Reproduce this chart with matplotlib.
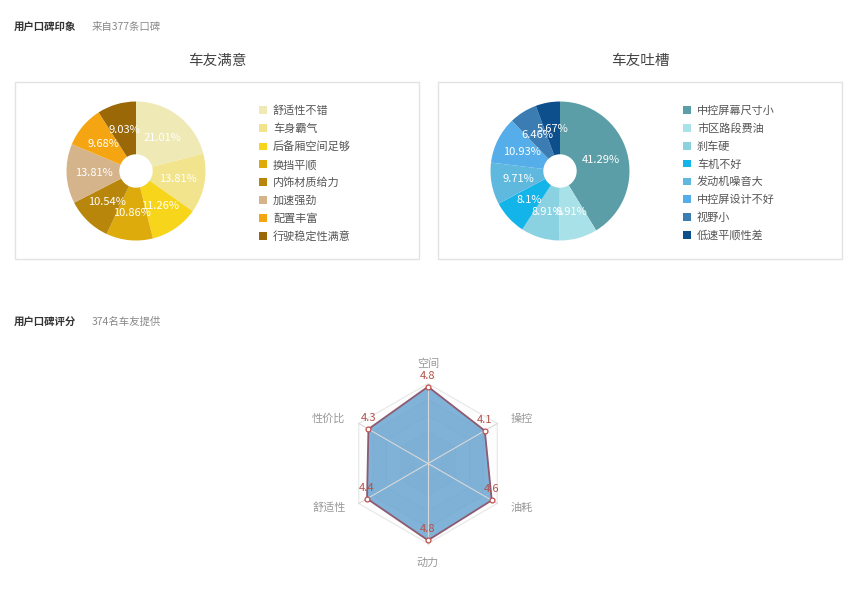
import numpy as np
import matplotlib
matplotlib.use('Agg')
import matplotlib.pyplot as plt
from matplotlib.patches import Rectangle, Patch, Polygon

plt.rcParams['font.family'] = ['Noto Sans CJK SC', 'DejaVu Sans']

# data
good_labels = ['舒适性不错', '车身霸气', '后备厢空间足够', '换挡平顺', '内饰材质给力',
               '加速强劲', '配置丰富', '行驶稳定性满意']
good_values = [21.01, 13.81, 11.26, 10.86, 10.54, 13.81, 9.68, 9.03]
good_colors = ['#efe9b5', '#f2e48c', '#f7d51a', '#ddab0c', '#b8860b',
               '#d5b48c', '#f5a512', '#9a6806']

bad_labels = ['中控屏幕尺寸小', '市区路段费油', '刹车硬', '车机不好', '发动机噪音大',
              '中控屏设计不好', '视野小', '低速平顺性差']
bad_values = [41.29, 8.91, 8.91, 8.1, 9.71, 10.93, 6.46, 5.67]
bad_colors = ['#5b9ea7', '#a8e1e8', '#8ad2e2', '#12b4ea', '#5fb9de',
              '#55aeea', '#3b7cb2', '#0d4f8c']

radar_names = ['空间', '操控', '油耗', '动力', '舒适性', '性价比']
radar_values = [4.8, 4.1, 4.6, 4.8, 4.4, 4.3]
radar_max = 5

W, H = 852, 601
fig = plt.figure(figsize=(W / 100, H / 100), dpi=100)


def fx(x):
    return x / W


def fy(y):
    return 1 - y / H


def header(y, bold_txt, gray_txt):
    fig.text(fx(14), fy(y), bold_txt, fontsize=7.5, fontweight='bold', color='#333333', va='center')
    fig.text(fx(92), fy(y), gray_txt, fontsize=7.5, color='#888888', va='center')


header(27, '用户口碑印象', '来自377条口碑')
header(322, '用户口碑评分', '374名车友提供')


def donut(cx, cy, values, labels, colors, title, box_x, leg_x):
    # title + frame
    fig.text(fx(box_x + 202), fy(61), title, fontsize=10.5, color='#444444', ha='center', va='center')
    fig.patches.append(Rectangle((fx(box_x), fy(259)), fx(404), 177 / H, transform=fig.transFigure,
                                 fill=False, edgecolor='#e3e3e3', linewidth=1))
    r = 69.5
    size = 2 * 1.25 * r
    ax = fig.add_axes([fx(cx - size / 2), fy(cy + size / 2), size / W, size / H])
    wedges, texts = ax.pie(values, labels=[f'{v:g}%' for v in values], colors=colors,
                           startangle=90, counterclock=False, labeldistance=0.61,
                           wedgeprops=dict(width=1 - 16.7 / r, linewidth=0),
                           textprops=dict(color='white', fontsize=8))
    for t in texts:
        t.set_ha('center')
        t.set_va('center')
    ax.set_xlim(-1.25, 1.25)
    ax.set_ylim(-1.25, 1.25)
    handles = [Patch(facecolor=c, edgecolor='none') for c in colors]
    leg = ax.legend(handles, labels, loc='upper left', bbox_to_anchor=(fx(leg_x), fy(105.5)),
                    bbox_transform=fig.transFigure, frameon=False, fontsize=8,
                    handlelength=0.7, handleheight=0.7, handletextpad=0.55,
                    labelspacing=0.66, borderpad=0, borderaxespad=0)
    for t in leg.get_texts():
        t.set_color('#555555')
    return ax


donut(136, 171, good_values, good_labels, good_colors, '车友满意', 15, 259)
donut(560, 171, bad_values, bad_labels, bad_colors, '车友吐槽', 438, 683)

# radar
rcx, rcy, px_per = 428, 463.5, 16.0
side = 300
rax = fig.add_axes([fx(rcx - side / 2), fy(rcy + side / 2), side / W, side / H])
lim = side / 2 / px_per
rax.set_xlim(-lim, lim)
rax.set_ylim(-lim, lim)
rax.axis('off')

n = len(radar_names)
ang = np.pi / 2 - np.arange(n) * 2 * np.pi / n
band_colors = ['#fcfcfc', '#e6e6e6']
for lvl in range(radar_max, 0, -1):
    pts = np.column_stack([lvl * np.cos(ang), lvl * np.sin(ang)])
    rax.add_patch(Polygon(pts, closed=True, facecolor=band_colors[(lvl - 1) % 2],
                          edgecolor='#d8d8d8', linewidth=0.8, alpha=0.6))
for a in ang:
    rax.plot([0, radar_max * np.cos(a)], [0, radar_max * np.sin(a)], color='#d8d8d8', lw=0.8)

vals = np.array(radar_values)
xs, ys = vals * np.cos(ang), vals * np.sin(ang)
rax.add_patch(Polygon(np.column_stack([xs, ys]), closed=True, facecolor='#6ba5d2',
                      alpha=0.85, edgecolor='none'))
rax.plot(np.append(xs, xs[0]), np.append(ys, ys[0]), color='#8e5a72', lw=1.3)
rax.plot(xs, ys, 'o', ms=3.5, mfc='white', mec='#c0504d', mew=0.9)
for x, y, v in zip(xs, ys, radar_values):
    rax.annotate(f'{v:g}', (x, y), xytext=(0, 8), textcoords='offset points',
                 ha='center', va='center', fontsize=8, color='#b5504a')

name_r = 5.95
for a, name in zip(ang, radar_names):
    c = np.cos(a)
    if abs(c) < 0.1:
        ha = 'center'
        r = name_r - 0.05
    else:
        ha = 'left' if c > 0 else 'right'
        r = name_r
    va = 'center'
    if abs(c) < 0.1:
        va = 'bottom' if np.sin(a) > 0 else 'top'
    y_off = 0.0 if abs(c) < 0.1 else -0.2 * np.sign(np.sin(a))
    rax.text(r * c, r * np.sin(a) + y_off, name, ha=ha, va=va, fontsize=8, color='#999999')

fig.savefig('out.png', dpi=100, facecolor='white')
